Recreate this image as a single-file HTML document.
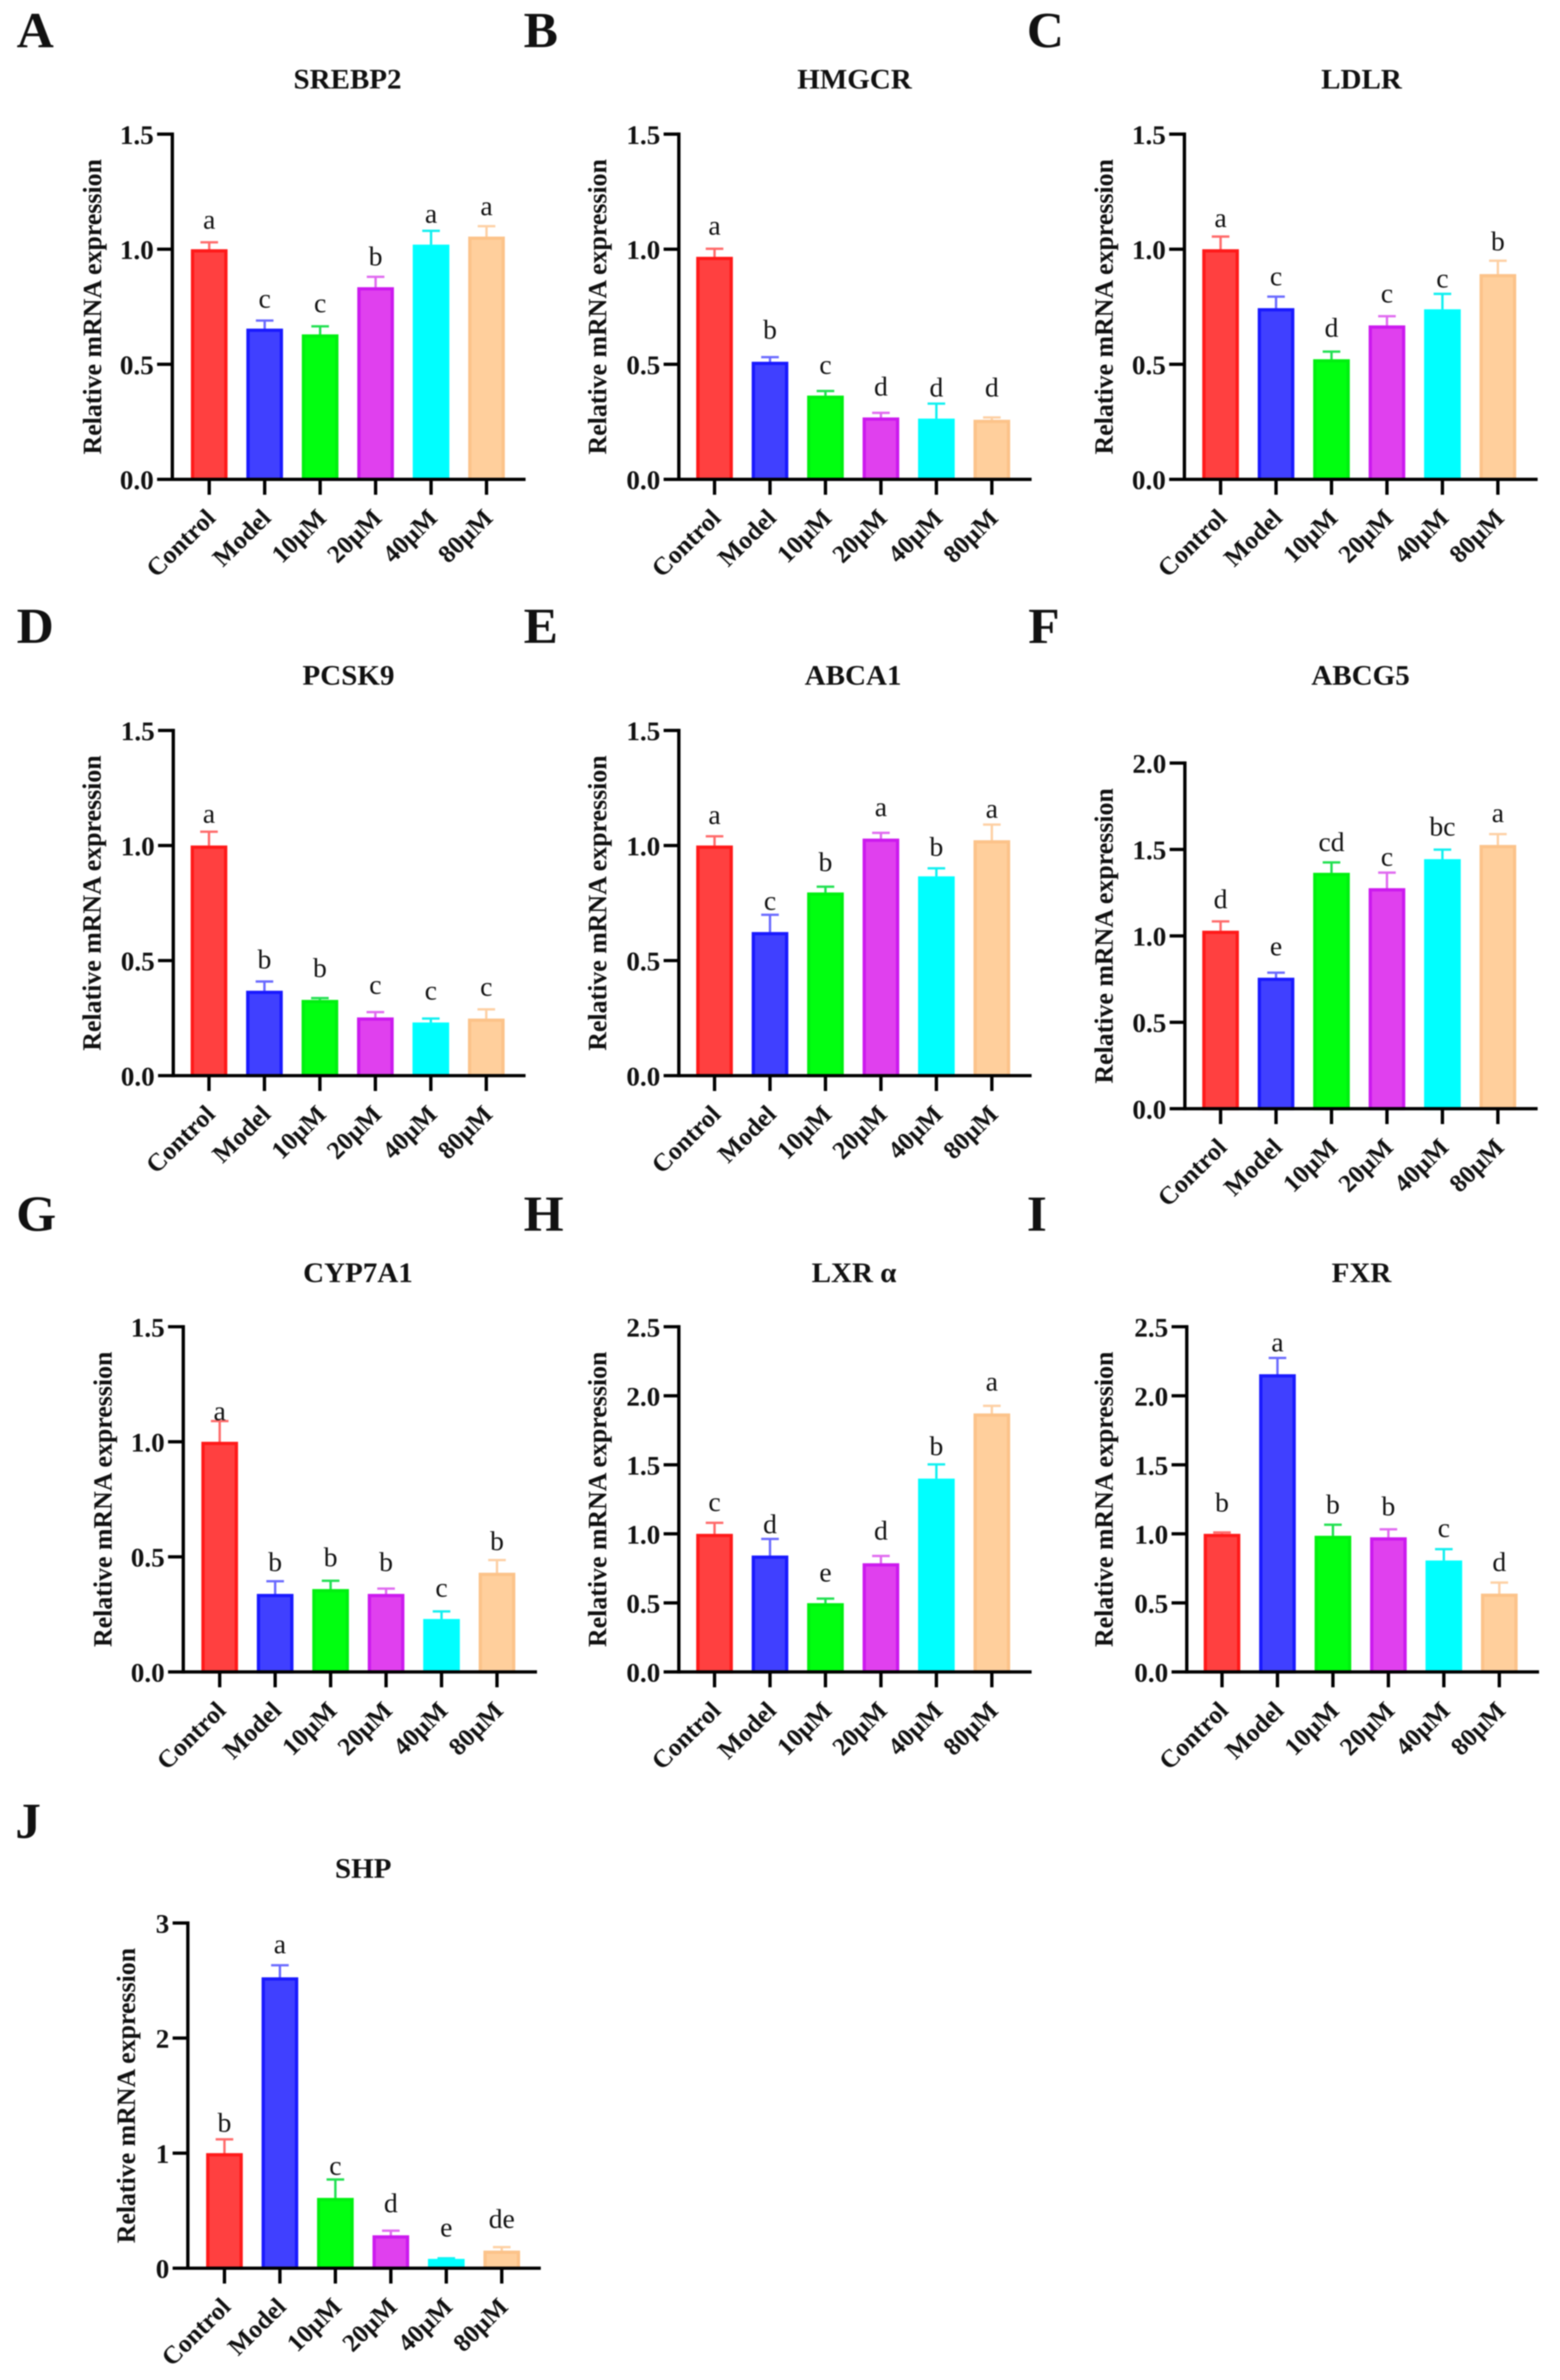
<!DOCTYPE html>
<html lang="en">
<head>
<meta charset="utf-8">
<title>Relative mRNA expression panels</title>
<style>
html,body{margin:0;padding:0;background:#fff;overflow:hidden}
#frame{position:relative;width:3277px;height:min(5109px,100vh);overflow:hidden;background:#fff}
svg{position:absolute;left:0;top:0;width:3277px;height:100%;overflow:hidden}
#plots{filter:blur(1.4px)}
text{font-family:"Liberation Serif",serif;fill:#111}
</style>
</head>
<body>
<div id="frame">
<svg id="figure" xmlns="http://www.w3.org/2000/svg" viewBox="0 0 3277 5109" preserveAspectRatio="none"><g id="plots"></g></svg>
</div>
<script>
const categories = ['Control', 'Model', '10\u00B5M', '20\u00B5M', '40\u00B5M', '80\u00B5M'];
const yAxisLabel = 'Relative mRNA expression';

const ticks15 = ['0.0', '0.5', '1.0', '1.5'];
const ticks20 = ['0.0', '0.5', '1.0', '1.5', '2.0'];
const ticks25 = ['0.0', '0.5', '1.0', '1.5', '2.0', '2.5'];
const ticks3 = ['0', '1', '2', '3'];

const srebp2Values = [1.0, 0.655, 0.63, 0.835, 1.02, 1.055];
const srebp2Errors = [0.03, 0.035, 0.035, 0.045, 0.06, 0.045];
const srebp2Letters = ['a', 'c', 'c', 'b', 'a', 'a'];
const srebp2LetterLevels = [1.089, 0.746, 0.726, 0.93, 1.115, 1.148];

const hmgcrValues = [0.967, 0.511, 0.364, 0.269, 0.264, 0.259];
const hmgcrErrors = [0.035, 0.02, 0.02, 0.02, 0.065, 0.01];
const hmgcrLetters = ['a', 'b', 'c', 'd', 'd', 'd'];
const hmgcrLetterLevels = [1.063, 0.611, 0.458, 0.364, 0.36, 0.36];

const ldlrValues = [1.0, 0.744, 0.522, 0.669, 0.739, 0.892];
const ldlrErrors = [0.055, 0.05, 0.033, 0.04, 0.067, 0.058];
const ldlrLetters = ['a', 'c', 'd', 'c', 'c', 'b'];
const ldlrLetterLevels = [1.096, 0.843, 0.62, 0.768, 0.834, 0.995];

const pcsk9Values = [1.0, 0.369, 0.329, 0.253, 0.231, 0.248];
const pcsk9Errors = [0.06, 0.04, 0.008, 0.023, 0.017, 0.04];
const pcsk9Letters = ['a', 'b', 'b', 'c', 'c', 'c'];
const pcsk9LetterLevels = [1.099, 0.466, 0.429, 0.355, 0.33, 0.347];

const abca1Values = [1.0, 0.624, 0.796, 1.03, 0.866, 1.023];
const abca1Errors = [0.04, 0.075, 0.025, 0.025, 0.035, 0.068];
const abca1Letters = ['a', 'c', 'b', 'a', 'b', 'a'];
const abca1LetterLevels = [1.094, 0.72, 0.889, 1.128, 0.955, 1.12];

const abcg5Values = [1.03, 0.758, 1.365, 1.276, 1.444, 1.526];
const abcg5Errors = [0.054, 0.029, 0.06, 0.09, 0.055, 0.063];
const abcg5Letters = ['d', 'e', 'cd', 'c', 'bc', 'a'];
const abcg5LetterLevels = [1.16, 0.887, 1.49, 1.405, 1.58, 1.658];

const cyp7a1Values = [1.0, 0.339, 0.36, 0.339, 0.23, 0.431];
const cyp7a1Errors = [0.09, 0.055, 0.036, 0.023, 0.033, 0.055];
const cyp7a1Letters = ['a', 'b', 'b', 'b', 'c', 'b'];
const cyp7a1LetterLevels = [1.094, 0.438, 0.459, 0.438, 0.327, 0.529];

const lxrValues = [1.0, 0.843, 0.498, 0.787, 1.4, 1.872];
const lxrErrors = [0.08, 0.12, 0.033, 0.053, 0.103, 0.055];
const lxrLetters = ['c', 'd', 'e', 'd', 'b', 'a'];
const lxrLetterLevels = [1.165, 1.005, 0.655, 0.958, 1.57, 2.037];

const fxrValues = [1.0, 2.156, 0.986, 0.975, 0.807, 0.567];
const fxrErrors = [0.01, 0.118, 0.08, 0.058, 0.082, 0.08];
const fxrLetters = ['b', 'a', 'b', 'b', 'c', 'd'];
const fxrLetterLevels = [1.162, 2.321, 1.148, 1.134, 0.977, 0.73];

const shpValues = [1.0, 2.528, 0.611, 0.286, 0.081, 0.153];
const shpErrors = [0.12, 0.105, 0.16, 0.04, 0.005, 0.03];
const shpLetters = ['b', 'a', 'c', 'd', 'e', 'de'];
const shpLetterLevels = [1.186, 2.736, 0.812, 0.487, 0.276, 0.351];

const barFills = ['#ff4040', '#4040ff', '#00ff10', '#e040ee', '#00ffff', '#ffcf9c'];
const barEdges = ['#ff1a1a', '#1a1aff', '#00f010', '#cc1aee', '#00ffff', '#fcc38a'];
const errorColors = ['#ff6a6a', '#6a6aff', '#20e050', '#e06af0', '#10f0f0', '#fdd0a4'];

const panels = [
  {label:'A', labelX:35, labelY:101, title:'SREBP2', titleX:730, titleY:190, left:362, top:288, base:1029, right:1104, firstX:439.5, yTitleX:194, ticks:ticks15, values:srebp2Values, errors:srebp2Errors, letters:srebp2Letters, levels:srebp2LetterLevels},
  {label:'B', labelX:1100, labelY:101, title:'HMGCR', titleX:1795, titleY:190, left:1426, top:288, base:1029, right:2167, firstX:1501, yTitleX:1255, ticks:ticks15, values:hmgcrValues, errors:hmgcrErrors, letters:hmgcrLetters, levels:hmgcrLetterLevels},
  {label:'C', labelX:2157, labelY:101, title:'LDLR', titleX:2860, titleY:190, left:2488, top:288, base:1029, right:3230, firstX:2564, yTitleX:2319, ticks:ticks15, values:ldlrValues, errors:ldlrErrors, letters:ldlrLetters, levels:ldlrLetterLevels},
  {label:'D', labelX:35, labelY:1380, title:'PCSK9', titleX:732, titleY:1470, left:364, top:1568, base:2309, right:1104, firstX:439, yTitleX:193, ticks:ticks15, values:pcsk9Values, errors:pcsk9Errors, letters:pcsk9Letters, levels:pcsk9LetterLevels},
  {label:'E', labelX:1100, labelY:1380, title:'ABCA1', titleX:1792, titleY:1470, left:1426, top:1568, base:2309, right:2167, firstX:1501, yTitleX:1255, ticks:ticks15, values:abca1Values, errors:abca1Errors, letters:abca1Letters, levels:abca1LetterLevels},
  {label:'F', labelX:2160, labelY:1380, title:'ABCG5', titleX:2858, titleY:1470, left:2489, top:1638, base:2380, right:3230, firstX:2564, yTitleX:2319, ticks:ticks20, values:abcg5Values, errors:abcg5Errors, letters:abcg5Letters, levels:abcg5LetterLevels},
  {label:'G', labelX:34, labelY:2642, title:'CYP7A1', titleX:752, titleY:2752, left:385, top:2848, base:3589, right:1128, firstX:461.5, yTitleX:216, ticks:ticks15, values:cyp7a1Values, errors:cyp7a1Errors, letters:cyp7a1Letters, levels:cyp7a1LetterLevels},
  {label:'H', labelX:1100, labelY:2642, title:'LXR \u03B1', titleX:1794, titleY:2752, left:1426, top:2848, base:3589, right:2167, firstX:1501, yTitleX:1255, ticks:ticks25, values:lxrValues, errors:lxrErrors, letters:lxrLetters, levels:lxrLetterLevels},
  {label:'I', labelX:2157, labelY:2642, title:'FXR', titleX:2860, titleY:2752, left:2493, top:2848, base:3589, right:3233, firstX:2567, yTitleX:2319, ticks:ticks25, values:fxrValues, errors:fxrErrors, letters:fxrLetters, levels:fxrLetterLevels},
  {label:'J', labelX:32, labelY:3945, title:'SHP', titleX:763, titleY:4031, left:394.6, top:4128, base:4869, right:1136, firstX:471.5, yTitleX:265, ticks:ticks3, values:shpValues, errors:shpErrors, letters:shpLetters, levels:shpLetterLevels}
];

const SVG_NS = 'http://www.w3.org/2000/svg';
const figure = document.getElementById('plots');
const CATEGORY_STEP = 116.5;
const BAR_WIDTH = 77;
const BAR_EDGE = 7;
const CAP_WIDTH = 37;
const AXIS_WIDTH = 7;
const TICK_LENGTH = 33;
const Y_TICK_LENGTH = 32;

function make(tag, parent, props) {
  const el = document.createElementNS(SVG_NS, tag);
  Object.keys(props).forEach(function (k) { el.setAttribute(k, props[k]); });
  parent.appendChild(el);
  return el;
}

function drawPanel(p) {
  const yMax = parseFloat(p.ticks[p.ticks.length - 1]);
  const yScale = function (v) { return p.base - (v / yMax) * (p.base - p.top); };
  const xScale = function (i) { return p.firstX + i * CATEGORY_STEP; };

  const group = make('g', figure, {});
  
  

  const panelLabel = make('text', group, {x: p.labelX, y: p.labelY, 'font-size': 108, 'font-weight': 'bold'});
  panelLabel.textContent = p.label;
  
  

  const title = make('text', group, {x: p.titleX, y: p.titleY, 'font-size': 61, 'font-weight': 'bold', 'text-anchor': 'middle'});
  title.textContent = p.title;
  
  

  const midY = (p.top + p.base) / 2;
  const yTitle = make('text', group, {x: p.yTitleX, y: midY, 'font-size': 55.5, 'font-weight': 'bold', 'text-anchor': 'middle', 'dominant-baseline': 'central', transform: 'rotate(-90 ' + p.yTitleX + ' ' + midY + ')'});
  yTitle.textContent = yAxisLabel;
  
  

  p.values.forEach(function (value, i) {
    const cx = xScale(i);
    const topY = yScale(value);
    const capY = yScale(value + p.errors[i]);

    const stem = make('line', group, {x1: cx, x2: cx, y1: topY, y2: capY, stroke: errorColors[i], 'stroke-width': 5});
    
    

    const cap = make('line', group, {x1: cx - CAP_WIDTH / 2, x2: cx + CAP_WIDTH / 2, y1: capY, y2: capY, stroke: errorColors[i], 'stroke-width': 5});
    
    

    const bar = make('rect', group, {x: cx - BAR_WIDTH / 2 + BAR_EDGE / 2, y: topY + BAR_EDGE / 2, width: BAR_WIDTH - BAR_EDGE, height: Math.max(0, p.base - topY - BAR_EDGE / 2), fill: barFills[i], stroke: barEdges[i], 'stroke-width': BAR_EDGE});
    
    

    const letter = make('text', group, {x: cx, y: yScale(p.levels[i]), 'font-size': 58, 'text-anchor': 'middle'});
    letter.textContent = p.letters[i];
    
    

    const xTick = make('line', group, {x1: cx, x2: cx, y1: p.base, y2: p.base + TICK_LENGTH, stroke: '#000', 'stroke-width': AXIS_WIDTH});
    
    

    const tx = cx + 16;
    const ty = p.base + 86;
    const xLabel = make('text', group, {x: tx, y: ty, 'font-size': 54, 'font-weight': 'bold', 'text-anchor': 'end', transform: 'rotate(-45 ' + tx + ' ' + ty + ')'});
    xLabel.textContent = categories[i];
    
    
  });

  p.ticks.forEach(function (tick) {
    const y = yScale(parseFloat(tick));

    const yTick = make('line', group, {x1: p.left - Y_TICK_LENGTH, x2: p.left, y1: y, y2: y, stroke: '#000', 'stroke-width': AXIS_WIDTH});
    
    

    const yLabel = make('text', group, {x: p.left - 39, y: y + 21, 'font-size': 57, 'font-weight': 'bold', 'text-anchor': 'end'});
    yLabel.textContent = tick;
    
    
  });

  const yAxis = make('line', group, {x1: p.left, x2: p.left, y1: p.top - AXIS_WIDTH / 2, y2: p.base + AXIS_WIDTH / 2, stroke: '#000', 'stroke-width': AXIS_WIDTH});
  
  

  const xAxis = make('line', group, {x1: p.left, x2: p.right, y1: p.base, y2: p.base, stroke: '#000', 'stroke-width': AXIS_WIDTH});
  
  
}

panels.forEach(drawPanel);
</script>
</body>
</html>
